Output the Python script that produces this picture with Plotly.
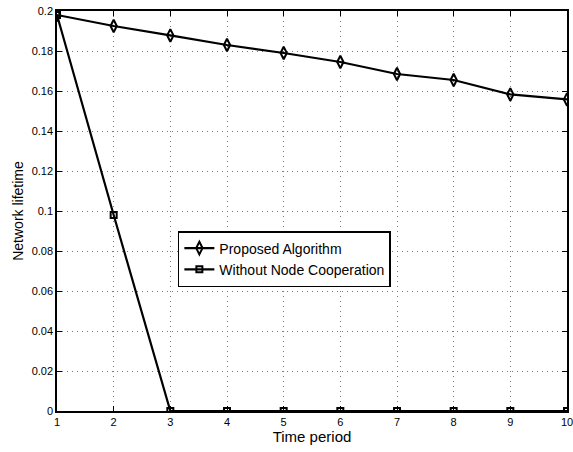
import plotly.graph_objects as go

time_period = [1, 2, 3, 4, 5, 6, 7, 8, 9, 10]
proposed = [0.198, 0.1925, 0.1878, 0.1830, 0.1790, 0.1745, 0.1685, 0.1655, 0.1583, 0.1558]
without_coop = [0.198, 0.098, 0, 0, 0, 0, 0, 0, 0, 0]
y_ticks = [0, 0.02, 0.04, 0.06, 0.08, 0.1, 0.12, 0.14, 0.16, 0.18, 0.2]
y_tick_text = ["0", "0.02", "0.04", "0.06", "0.08", "0.1", "0.12", "0.14", "0.16", "0.18", "0.2"]

fig = go.Figure()
fig.add_trace(go.Scatter(
    x=time_period, y=proposed, name="Proposed Algorithm",
    mode="lines+markers",
    line=dict(color="black", width=2.2),
    marker=dict(symbol="diamond-tall-open", size=9, color="black", line=dict(width=2)),
))
fig.add_trace(go.Scatter(
    x=time_period, y=without_coop, name="Without Node Cooperation",
    mode="lines+markers",
    line=dict(color="black", width=2.2),
    marker=dict(symbol="square-open", size=6, color="black", line=dict(width=2)),
))

axis_common = dict(
    showline=True, linecolor="black", linewidth=1.5, mirror="ticks",
    ticks="inside", ticklen=5, tickcolor="black",
    showgrid=True, gridcolor="#7a7a7a", griddash="1px,4px", gridwidth=1,
    zeroline=False, automargin=False, ticklabeloverflow="allow",
    tickfont=dict(family="Liberation Sans, Arial", size=11, color="black"),
)

fig.update_layout(
    width=573, height=452,
    paper_bgcolor="white", plot_bgcolor="white",
    margin=dict(l=57, r=6, t=11, b=41),
    font=dict(family="Liberation Sans, Arial", color="black"),
    xaxis=dict(
        range=[1, 10], tickvals=time_period, ticklabelstandoff=0,
        title=dict(text="Time period", font=dict(size=15), standoff=4),
        **axis_common,
    ),
    yaxis=dict(
        range=[0, 0.2], tickvals=y_ticks, ticktext=y_tick_text,
        title=dict(text="Network lifetime", font=dict(size=14), standoff=5),
        **axis_common,
    ),
    legend=dict(
        x=0.237, y=0.45, xanchor="left", yanchor="top",
        bgcolor="white", bordercolor="black", borderwidth=1.5,
        font=dict(size=14, color="black"),
        tracegroupgap=0,
    ),
    showlegend=True,
)

fig.write_html(
    "out.html",
    config={"displayModeBar": False},
    post_script="document.body.style.margin='0';document.body.style.overflow='hidden';",
)
